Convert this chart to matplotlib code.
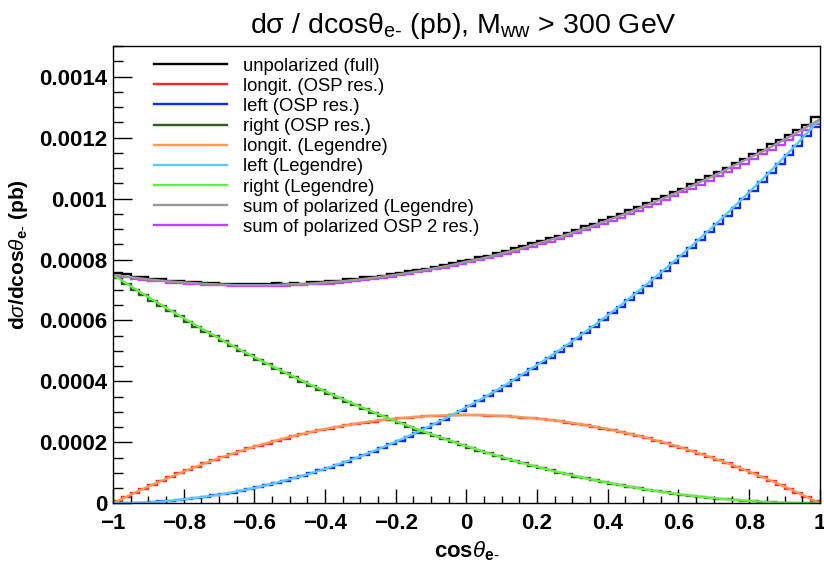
import matplotlib
matplotlib.use('Agg')
import matplotlib.pyplot as plt
from matplotlib.lines import Line2D
from matplotlib.ticker import MultipleLocator
import numpy as np

plt.rcParams['font.family'] = ['Liberation Sans', 'DejaVu Sans']
plt.rcParams['mathtext.fontset'] = 'custom'
plt.rcParams['mathtext.rm'] = 'Liberation Sans'
plt.rcParams['mathtext.it'] = 'Liberation Sans:italic'
plt.rcParams['mathtext.bf'] = 'Liberation Sans:bold'

# histogram binning: 80 bins on cos(theta) in [-1, 1]
edges = np.linspace(-1.0, 1.0, 81)

# bin contents, in units of 1e-4 pb
unpol_full = [7.55, 7.52, 7.44, 7.41, 7.37, 7.36, 7.31, 7.29, 7.27, 7.25,
              7.22, 7.24, 7.21, 7.19, 7.20, 7.18, 7.20, 7.18, 7.22, 7.20,
              7.24, 7.21, 7.26, 7.27, 7.29, 7.31, 7.35, 7.36, 7.42, 7.44,
              7.47, 7.53, 7.55, 7.61, 7.65, 7.70, 7.75, 7.83, 7.87, 7.94,
              7.99, 8.08, 8.13, 8.22, 8.27, 8.37, 8.43, 8.53, 8.60, 8.71,
              8.77, 8.88, 8.98, 9.09, 9.16, 9.29, 9.38, 9.49, 9.61, 9.72,
              9.84, 9.97, 10.07, 10.22, 10.32, 10.48, 10.60, 10.73, 10.88, 11.01,
              11.16, 11.29, 11.47, 11.60, 11.78, 11.91, 12.09, 12.24, 12.42, 12.68]

longit_osp = [0.06, 0.21, 0.34, 0.48, 0.61, 0.74, 0.86, 0.98, 1.09, 1.20,
              1.31, 1.42, 1.52, 1.61, 1.71, 1.80, 1.89, 1.96, 2.05, 2.12,
              2.20, 2.26, 2.33, 2.39, 2.45, 2.50, 2.56, 2.60, 2.65, 2.68,
              2.73, 2.75, 2.79, 2.81, 2.84, 2.85, 2.87, 2.88, 2.89, 2.89,
              2.89, 2.89, 2.88, 2.87, 2.85, 2.83, 2.81, 2.79, 2.76, 2.73,
              2.69, 2.65, 2.61, 2.56, 2.51, 2.45, 2.40, 2.33, 2.27, 2.20,
              2.13, 2.05, 1.97, 1.89, 1.80, 1.71, 1.62, 1.52, 1.42, 1.31,
              1.20, 1.09, 0.98, 0.86, 0.73, 0.61, 0.48, 0.35, 0.21, 0.07]

left_osp = [0.00, 0.00, 0.01, 0.02, 0.04, 0.06, 0.08, 0.11, 0.14, 0.18,
            0.22, 0.26, 0.31, 0.35, 0.41, 0.47, 0.53, 0.60, 0.67, 0.74,
            0.82, 0.90, 0.99, 1.08, 1.17, 1.27, 1.37, 1.48, 1.58, 1.70,
            1.81, 1.94, 2.06, 2.19, 2.32, 2.46, 2.60, 2.74, 2.89, 3.04,
            3.20, 3.36, 3.52, 3.69, 3.86, 4.04, 4.22, 4.40, 4.59, 4.78,
            4.97, 5.17, 5.38, 5.58, 5.79, 6.01, 6.23, 6.45, 6.68, 6.91,
            7.14, 7.38, 7.62, 7.87, 8.12, 8.37, 8.63, 8.89, 9.16, 9.43,
            9.70, 9.98, 10.26, 10.55, 10.84, 11.13, 11.43, 11.73, 12.04, 12.36]

right_osp = [7.38, 7.20, 7.01, 6.84, 6.65, 6.48, 6.30, 6.14, 5.96, 5.80,
             5.63, 5.48, 5.32, 5.16, 5.01, 4.86, 4.71, 4.56, 4.41, 4.27,
             4.13, 3.99, 3.86, 3.72, 3.59, 3.46, 3.34, 3.21, 3.09, 2.98,
             2.86, 2.74, 2.63, 2.52, 2.42, 2.31, 2.21, 2.11, 2.01, 1.91,
             1.82, 1.73, 1.64, 1.56, 1.47, 1.39, 1.31, 1.23, 1.16, 1.08,
             1.01, 0.95, 0.88, 0.82, 0.76, 0.70, 0.64, 0.59, 0.54, 0.49,
             0.44, 0.40, 0.36, 0.32, 0.28, 0.24, 0.21, 0.18, 0.15, 0.13,
             0.10, 0.08, 0.06, 0.05, 0.03, 0.02, 0.01, 0.01, 0.00, 0.00]

# Legendre fit curves sampled every 0.05 in cos(theta), units of 1e-4 pb
leg_x = np.linspace(-1.0, 1.0, 41)
longit_leg = [0.00, 0.28, 0.55, 0.80, 1.04, 1.27, 1.48, 1.67, 1.86, 2.02,
              2.18, 2.31, 2.44, 2.54, 2.64, 2.72, 2.78, 2.83, 2.87, 2.89,
              2.90, 2.89, 2.87, 2.83, 2.78, 2.72, 2.64, 2.54, 2.44, 2.31,
              2.18, 2.02, 1.86, 1.67, 1.48, 1.27, 1.04, 0.80, 0.55, 0.28,
              0.00]
left_leg = [0.00, 0.01, 0.03, 0.07, 0.13, 0.20, 0.28, 0.39, 0.50, 0.64,
            0.79, 0.95, 1.13, 1.33, 1.54, 1.77, 2.02, 2.28, 2.55, 2.84,
            3.15, 3.47, 3.81, 4.17, 4.54, 4.92, 5.32, 5.74, 6.17, 6.62,
            7.09, 7.57, 8.06, 8.58, 9.10, 9.65, 10.21, 10.78, 11.37, 11.98,
            12.60]
right_leg = [7.50, 7.13, 6.77, 6.42, 6.08, 5.74, 5.42, 5.10, 4.80, 4.50,
             4.22, 3.94, 3.68, 3.42, 3.17, 2.93, 2.70, 2.48, 2.27, 2.07,
             1.88, 1.69, 1.52, 1.35, 1.20, 1.05, 0.92, 0.79, 0.68, 0.57,
             0.47, 0.38, 0.30, 0.23, 0.17, 0.12, 0.08, 0.04, 0.02, 0.00,
             0.00]

scale = 1e-4
sum_leg = (np.array(longit_leg) + np.array(left_leg) + np.array(right_leg)) * scale
sum_osp = (np.array(longit_osp) + np.array(left_osp) + np.array(right_osp)) * scale

fig = plt.figure(figsize=(8.24, 5.63), dpi=100)
ax = fig.add_axes([0.137, 0.106, 0.858, 0.812])

lw = 1.7
colors = ['black', '#ff2b2b', '#0a2dff', '#2e5e22', '#ff9955', '#5cc8ff', '#66ee44', '#999999', '#bb44ff']

hists = [unpol_full, longit_osp, left_osp, right_osp]
for vals, col in zip(hists, colors[:4]):
    ax.stairs(np.array(vals) * scale, edges, baseline=None, color=col, lw=lw)

curves = [longit_leg, left_leg, right_leg]
for vals, col in zip(curves, colors[4:7]):
    ax.plot(leg_x, np.array(vals) * scale, color=col, lw=lw)
ax.plot(leg_x, sum_leg, color=colors[7], lw=lw)
ax.stairs(sum_osp, edges, baseline=None, color=colors[8], lw=lw)

ax.set_xlim(-1, 1)
ax.set_ylim(0, 0.0015)

ax.xaxis.set_minor_locator(MultipleLocator(0.05))
ax.yaxis.set_minor_locator(MultipleLocator(0.00005))
ax.set_yticks([0, 0.0002, 0.0004, 0.0006, 0.0008, 0.001, 0.0012, 0.0014])
ax.set_yticklabels(['0', '0.0002', '0.0004', '0.0006', '0.0008', '0.001', '0.0012', '0.0014'])
ax.set_xticks([-1, -0.8, -0.6, -0.4, -0.2, 0, 0.2, 0.4, 0.6, 0.8, 1])
ax.set_xticklabels(['\u22121', '\u22120.8', '\u22120.6', '\u22120.4', '\u22120.2', '0',
                    '0.2', '0.4', '0.6', '0.8', '1'])

ax.tick_params(axis='both', which='both', direction='in', top=False, right=False, width=1)
ax.tick_params(axis='y', which='major', length=14, pad=4)
ax.tick_params(axis='y', which='minor', length=7)
ax.tick_params(axis='x', which='major', length=10, pad=7)
ax.tick_params(axis='x', which='minor', length=5)
for lbl in ax.get_xticklabels() + ax.get_yticklabels():
    lbl.set_fontsize(16)
    lbl.set_fontweight('bold')
for sp in ax.spines.values():
    sp.set_linewidth(1.0)

ax.set_xlabel(r'cos$\theta_{\mathbf{e\text{-}}}$', fontsize=16, fontweight='bold')
ax.xaxis.set_label_coords(0.5, -0.078)
ax.set_ylabel(r'd$\sigma$/dcos$\theta_{\mathbf{e\text{-}}}$ (pb)', fontsize=15, fontweight='bold')
ax.yaxis.set_label_coords(-0.117, 0.545)

fig.text(0.563, 0.953, r'd$\mathregular{\sigma}$ / dcos$\mathregular{\theta_{e\text{-}}}$ (pb), M$_{\mathregular{ww}}$ > 300 GeV',
         ha='center', va='center', fontsize=20.5)

handles = [Line2D([], [], color=c, lw=lw) for c in colors]
labels = ['unpolarized (full)', 'longit. (OSP res.)', 'left (OSP res.)', 'right (OSP res.)',
          'longit. (Legendre)', 'left (Legendre)', 'right (Legendre)',
          'sum of polarized (Legendre)', 'sum of polarized OSP 2 res.)']
ax.legend(handles, labels, loc='upper left', bbox_to_anchor=(0.047, 0.991), frameon=False,
          fontsize=13.3, handlelength=4.0, handletextpad=0.85, labelspacing=0.17, borderaxespad=0)

fig.savefig('out.png', dpi=100, facecolor='white')
